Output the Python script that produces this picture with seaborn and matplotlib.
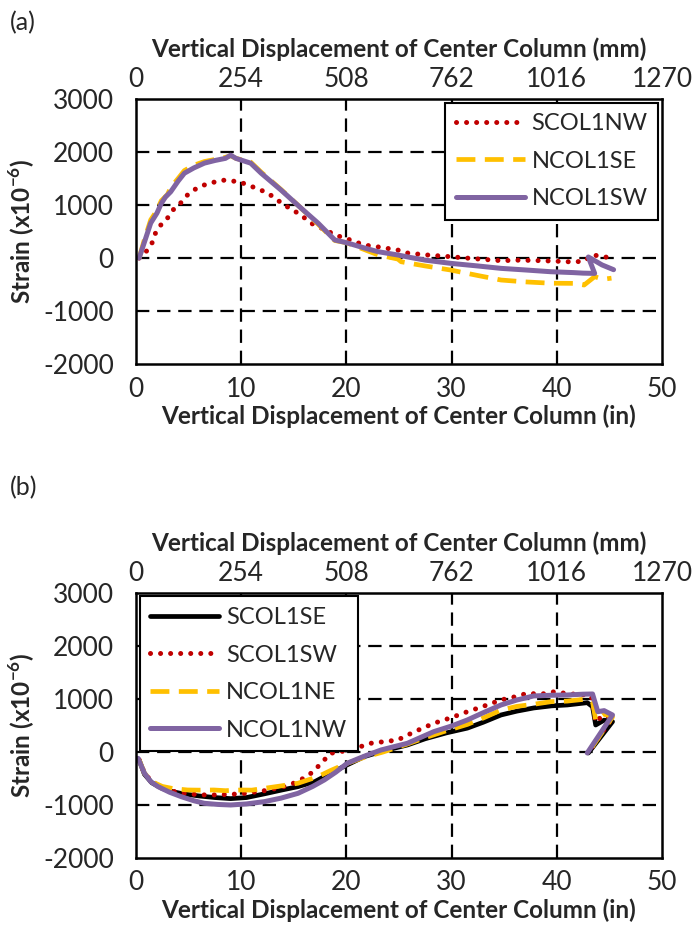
import numpy as np
import pandas as pd
import seaborn as sns
import matplotlib as mpl
import matplotlib.pyplot as plt

# ---- panel (a) data: displacement (in) vs strain (x10^-6)
a_scol1nw_x = [0.3, 1.1, 1.6, 1.9, 2.5, 3.0, 3.5, 4.1, 4.6, 5.2, 6.2, 7.1, 8.2, 9.8, 11.0, 12.5,
               14.1, 15.7, 16.6, 18.0, 19.0, 20.1, 21.7, 23.0, 24.9, 25.8, 27.5, 29.9, 32.0,
               34.7, 36.5, 38.5, 40.0, 41.0, 41.8, 42.6, 43.4, 44.4, 45.3]
a_scol1nw_y = [0, 150, 310, 500, 660, 755, 905, 1000, 1130, 1250, 1360, 1415, 1470, 1440, 1350, 1230,
               1000, 810, 660, 530, 430, 360, 245, 210, 150, 95, 60, 25, -10,
               -50, -40, -50, -60, -70, -70, -60, 60, 25, 0]

a_ncol1se_x = [0.3, 0.8, 1.4, 2.0, 2.4, 3.0, 3.3, 4.0, 4.6, 5.5, 6.5, 7.5, 8.5, 9.0, 9.5, 10.9,
               11.9, 13.8, 15.7, 17.3, 18.9, 20.0, 21.7, 23.0, 24.9, 25.2, 27.5, 29.9, 32.5,
               34.7, 37.0, 39.4, 41.6, 42.6, 43.6, 44.4, 45.2]
a_ncol1se_y = [0, 350, 720, 900, 1080, 1200, 1330, 1500, 1650, 1750, 1820, 1860, 1900, 1930, 1880, 1810,
               1620, 1290, 940, 640, 330, 290, 160, 60, -20, -70, -150, -226, -330,
               -415, -450, -475, -478, -509, -352, -400, -380]

a_ncol1sw_x = [0.3, 0.8, 1.4, 2.0, 2.4, 2.8, 3.3, 4.0, 4.6, 5.5, 6.5, 7.5, 8.5, 9.0, 9.5, 10.9,
               11.9, 13.8, 15.7, 17.3, 18.9, 20.0, 21.7, 23.0, 24.9, 26.1, 27.5, 29.9, 32.5,
               34.7, 37.0, 39.4, 41.6, 42.5, 43.6, 43.0, 44.3, 45.4]
a_ncol1sw_y = [0, 300, 660, 850, 1030, 1150, 1250, 1450, 1600, 1700, 1790, 1840, 1880, 1940, 1880, 1790,
               1600, 1280, 940, 660, 340, 290, 190, 120, 57, 10, -40, -100, -150,
               -195, -225, -258, -275, -285, -290, 20, -130, -220]

# ---- panel (b) data
b_scol1se_x = [0.3, 0.8, 1.5, 2.5, 3.5, 4.5, 6.0, 7.5, 9.0, 10.5, 12.2, 13.8, 15.4, 17.0, 18.5,
               20.0, 21.7, 23.5, 25.8, 27.5, 29.5, 31.5, 33.0, 34.7, 36.2, 37.8, 39.5, 41.0,
               42.9, 43.4, 43.7, 44.5, 45.3, 43.0]
b_scol1se_y = [-150, -420, -580, -690, -750, -790, -830, -860, -880, -860, -790, -720, -654, -560, -400,
               -250, -88, 20, 132, 250, 360, 450, 560, 698, 770, 830, 870, 887,
               930, 855, 509, 600, 572, -19]

b_scol1sw_x = [0.3, 0.8, 1.5, 2.5, 3.5, 4.5, 6.2, 7.5, 9.0, 10.5, 12.2, 13.8, 15.4, 16.8, 17.9,
               18.5, 20.4, 22.3, 24.9, 25.5, 26.8, 28.3, 30.0, 31.5, 33.0, 34.7, 36.0, 37.2,
               38.5, 39.8, 41.0, 42.5, 43.3, 43.7, 44.4, 45.3, 43.0]
b_scol1sw_y = [-150, -400, -560, -680, -740, -780, -810, -810, -800, -780, -730, -670, -560, -380, -150,
               -25, 38, 164, 226, 290, 410, 540, 650, 760, 860, 981, 1040, 1107,
               1090, 1138, 1100, 1080, 1050, 560, 700, 650, -10]

b_ncol1ne_x = [0.3, 0.8, 1.5, 2.5, 3.5, 4.9, 6.0, 7.4, 8.5, 10.0, 11.0, 12.2, 13.8, 15.4, 17.3,
               18.5, 20.0, 21.7, 23.5, 25.8, 27.5, 29.5, 31.5, 33.0, 34.7, 36.2, 37.8, 39.5,
               41.0, 42.9, 43.4, 43.7, 44.5, 45.3, 43.0]
b_ncol1ne_y = [-150, -400, -560, -650, -690, -717, -720, -717, -730, -717, -720, -686, -640, -590, -465,
               -350, -220, -100, 0, 150, 270, 400, 520, 640, 790, 860, 900, 950,
               960, 1000, 950, 600, 720, 660, -15]

b_ncol1nw_x = [0.2, 0.8, 1.4, 2.1, 3.2, 4.3, 5.5, 6.5, 7.8, 9.0, 10.5, 12.2, 13.8, 15.4, 16.8,
               17.9, 19.0, 20.1, 21.7, 23.3, 25.8, 28.3, 30.0, 31.5, 33.0, 34.7, 36.2, 37.8,
               39.5, 41.0, 42.5, 43.4, 43.9, 44.5, 45.3, 42.9]
b_ncol1nw_y = [-120, -400, -560, -654, -760, -843, -920, -968, -990, -1000, -980, -937, -870, -780, -650,
               -528, -380, -210, -80, 38, 164, 383, 490, 604, 740, 887, 980, 1057,
               1070, 1075, 1090, 1094, 760, 780, 698, -19]

RED = "#C00000"
YELLOW = "#FFC000"
PURPLE = "#8064A2"

sns.set_style("white")
plt.rcParams['font.family'] = ['Lato', 'DejaVu Sans']
plt.rcParams['mathtext.fontset'] = 'custom'
plt.rcParams['mathtext.rm'] = 'Lato'
plt.rcParams['mathtext.bf'] = 'Lato:bold'
plt.rcParams['axes.unicode_minus'] = False
TICK_FS = 19
LAB_FS = 17.5
LEG_FS = 17

fig = plt.figure(figsize=(6.96, 9.51), dpi=100)
ax_a = fig.add_axes([0.1954, 0.6172, 0.7557, 0.2787])
ax_b = fig.add_axes([0.1954, 0.0978, 0.7557, 0.2787])

dotted = (0, (0.01, 2.0))
dashed = (0, (4, 2))


def draw(ax, x, y, color, ls, lw, label, cap='butt'):
    sns.lineplot(x=x, y=y, ax=ax, sort=False, estimator=None, color=color,
                 linestyle=ls, lw=lw, label=label, dash_capstyle=cap,
                 solid_capstyle='round', solid_joinstyle='round')


draw(ax_a, a_scol1nw_x, a_scol1nw_y, RED, dotted, 3.6, "SCOL1NW", cap='round')
draw(ax_a, a_ncol1se_x, a_ncol1se_y, YELLOW, dashed, 3.4, "NCOL1SE")
draw(ax_a, a_ncol1sw_x, a_ncol1sw_y, PURPLE, '-', 3.6, "NCOL1SW")

draw(ax_b, b_scol1se_x, b_scol1se_y, "black", '-', 3.4, "SCOL1SE")
draw(ax_b, b_scol1sw_x, b_scol1sw_y, RED, dotted, 3.6, "SCOL1SW", cap='round')
draw(ax_b, b_ncol1ne_x, b_ncol1ne_y, YELLOW, dashed, 3.4, "NCOL1NE")
draw(ax_b, b_ncol1nw_x, b_ncol1nw_y, PURPLE, '-', 3.6, "NCOL1NW")

for ax, loc in [(ax_a, 'upper right'), (ax_b, 'upper left')]:
    ax.set_xlim(0, 50)
    ax.set_ylim(-2000, 3000)
    ax.set_xticks([0, 10, 20, 30, 40, 50])
    ax.set_yticks([-2000, -1000, 0, 1000, 2000, 3000])
    ax.tick_params(axis='x', length=0, pad=9, labelsize=TICK_FS)
    ax.tick_params(axis='y', direction='in', length=5, width=1.5, pad=16, labelsize=TICK_FS)
    for v in [10, 20, 30, 40]:
        ax.axvline(v, color='black', lw=1.6, ls=(0, (6, 3.5)), zorder=0)
    for v in [-1000, 0, 1000, 2000]:
        ax.axhline(v, color='black', lw=1.6, ls=(0, (6, 3.5)), zorder=0)
    for s in ax.spines.values():
        s.set_color('black')
        s.set_linewidth(1.8)
    ax.set_xlabel("Vertical Displacement of Center Column (in)", fontsize=LAB_FS,
                  fontweight='bold', labelpad=2)
    ax.set_ylabel(r"Strain (x10$^{\mathbf{-6}}$)", fontsize=LAB_FS, fontweight='bold', labelpad=4)
    leg = ax.legend(loc=loc, fontsize=LEG_FS, frameon=True, fancybox=False, framealpha=1,
                    handlelength=2.9, borderaxespad=0.15, labelspacing=0.7,
                    handletextpad=0.3, borderpad=0.45)
    leg.get_frame().set_edgecolor('black')
    leg.get_frame().set_linewidth(1.5)

    top = ax.secondary_xaxis('top', functions=(lambda v: v * 25.4, lambda v: v / 25.4))
    top.set_xticks([0, 254, 508, 762, 1016, 1270])
    top.tick_params(length=0, pad=5, labelsize=TICK_FS)
    top.spines['top'].set_visible(False)
    top.set_xlabel("Vertical Displacement of Center Column (mm)", fontsize=LAB_FS,
                   fontweight='bold', labelpad=7)

fig.text(0.014, 0.976, "(a)", fontsize=18, va='center', ha='left')
fig.text(0.014, 0.487, "(b)", fontsize=18, va='center', ha='left')

fig.savefig("out.png", dpi=100)
